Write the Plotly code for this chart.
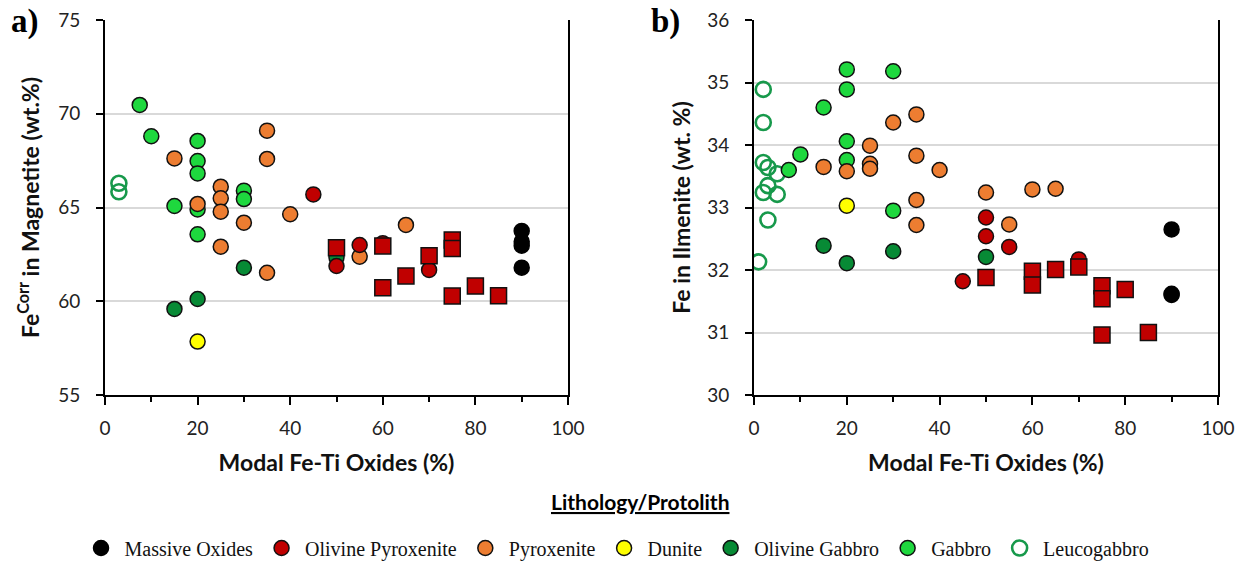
import plotly.graph_objects as go

# ---- Panel a: Fe(corr) in magnetite vs modal Fe-Ti oxides ----
mag_massive_x = [90, 90, 90, 90]
mag_massive_y = [63.75, 63.18, 62.96, 61.79]
mag_olpx_x = [45, 50, 55, 60, 70]
mag_olpx_y = [65.7, 61.88, 63.0, 63.1, 61.67]
mag_olpx_sq_x = [50, 60, 60, 65, 70, 75, 75, 75, 80, 85]
mag_olpx_sq_y = [62.86, 62.95, 60.72, 61.35, 62.43, 63.27, 62.82, 60.28, 60.81, 60.3]
mag_px_x = [15, 20, 25, 25, 25, 25, 30, 35, 35, 35, 40, 55, 65]
mag_px_y = [67.62, 65.19, 66.11, 65.49, 64.78, 62.91, 64.19, 69.1, 67.59, 61.52, 64.64, 62.38, 64.07]
mag_dun_x = [20]
mag_dun_y = [57.85]
mag_olgb_x = [15, 20, 30, 50]
mag_olgb_y = [59.59, 60.12, 61.79, 62.34]
mag_gb_x = [7.5, 10, 15, 20, 20, 20, 20, 20, 30, 30]
mag_gb_y = [70.47, 68.8, 65.08, 68.55, 67.48, 66.82, 64.9, 63.57, 65.9, 65.45]
mag_lgb_x = [3, 3]
mag_lgb_y = [66.29, 65.84]

# ---- Panel b: Fe in ilmenite vs modal Fe-Ti oxides ----
ilm_massive_x = [90, 90, 90]
ilm_massive_y = [32.65, 31.62, 31.6]
ilm_olpx_x = [45, 50, 50, 55, 70]
ilm_olpx_y = [31.82, 32.84, 32.54, 32.37, 32.17]
ilm_olpx_sq_x = [50, 60, 60, 65, 70, 75, 75, 75, 80, 85]
ilm_olpx_sq_y = [31.88, 31.98, 31.76, 32.01, 32.05, 31.75, 31.54, 30.96, 31.69, 31.0]
ilm_px_x = [15, 20, 25, 25, 25, 30, 35, 35, 35, 35, 40, 50, 55, 60, 65]
ilm_px_y = [33.65, 33.58, 33.99, 33.70, 33.62, 34.36, 34.49, 33.83, 33.12, 32.72, 33.6, 33.24, 32.73, 33.29, 33.30]
ilm_dun_x = [20]
ilm_dun_y = [33.03]
ilm_olgb_x = [15, 20, 30, 50]
ilm_olgb_y = [32.39, 32.11, 32.30, 32.21]
ilm_gb_x = [7.5, 10, 15, 20, 20, 20, 20, 30, 30]
ilm_gb_y = [33.6, 33.85, 34.6, 35.21, 34.89, 34.06, 33.76, 35.18, 32.95]
ilm_lgb_x = [2, 2, 2, 3, 5, 3, 2, 5, 3, 1]
ilm_lgb_y = [34.89, 34.36, 33.72, 33.64, 33.54, 33.35, 33.24, 33.21, 32.8, 32.13]

x_ticks = [0, 20, 40, 60, 80, 100]

AXIS_FONT = "Lato"
LEGEND_FONT = "Liberation Serif"

# fill colour, outline colour, outline width, rank in legend
styles = {
    "Leucogabbro": ("rgba(0,0,0,0)", "#17994B", 2.6, 7),
    "Gabbro": ("#1ED83E", "#111111", 1.5, 6),
    "Olivine Gabbro": ("#078A35", "#111111", 1.5, 5),
    "Dunite": ("#FFFF00", "#111111", 1.5, 4),
    "Pyroxenite": ("#ED7D31", "#111111", 1.5, 3),
    "Olivine Pyroxenite": ("#C00000", "#111111", 1.5, 2),
    "Massive Oxides": ("#000000", "#000000", 1.5, 1),
}

panel_a = {
    "Leucogabbro": (mag_lgb_x, mag_lgb_y),
    "Gabbro": (mag_gb_x, mag_gb_y),
    "Olivine Gabbro": (mag_olgb_x, mag_olgb_y),
    "Dunite": (mag_dun_x, mag_dun_y),
    "Pyroxenite": (mag_px_x, mag_px_y),
    "Olivine Pyroxenite": (mag_olpx_x, mag_olpx_y),
    "squares": (mag_olpx_sq_x, mag_olpx_sq_y),
    "Massive Oxides": (mag_massive_x, mag_massive_y),
}
panel_b = {
    "Leucogabbro": (ilm_lgb_x, ilm_lgb_y),
    "Gabbro": (ilm_gb_x, ilm_gb_y),
    "Olivine Gabbro": (ilm_olgb_x, ilm_olgb_y),
    "Dunite": (ilm_dun_x, ilm_dun_y),
    "Pyroxenite": (ilm_px_x, ilm_px_y),
    "Olivine Pyroxenite": (ilm_olpx_x, ilm_olpx_y),
    "squares": (ilm_olpx_sq_x, ilm_olpx_sq_y),
    "Massive Oxides": (ilm_massive_x, ilm_massive_y),
}

fig = go.Figure()

for panel, (xa, ya) in ((panel_a, ("x", "y")), (panel_b, ("x2", "y2"))):
    first = xa == "x"
    for name, (xs, ys) in panel.items():
        if name == "squares":
            fig.add_trace(go.Scatter(
                x=xs, y=ys, mode="markers", xaxis=xa, yaxis=ya,
                name="Olivine Pyroxenite", showlegend=False,
                marker=dict(symbol="square", size=16, color="#C00000",
                            line=dict(color="#111111", width=1.5)),
            ))
            continue
        fill, edge, lw, rank = styles[name]
        fig.add_trace(go.Scatter(
            x=xs, y=ys, mode="markers", xaxis=xa, yaxis=ya,
            name=name, legendgroup=name, showlegend=first, legendrank=rank,
            marker=dict(symbol="circle", size=15, color=fill,
                        line=dict(color=edge, width=lw)),
        ))

tick_font = dict(family=AXIS_FONT, size=19, color="#222222")
title_font = dict(family=AXIS_FONT, size=23, color="#111111", weight="bold")

def x_axis(domain, anchor):
    return dict(
        domain=domain, anchor=anchor, range=[0, 100], automargin=False,
        tickvals=x_ticks, ticks="outside", ticklen=8, tickwidth=2, tickcolor="black",
        minor=dict(dtick=10, tick0=0, ticks="outside", ticklen=5, tickwidth=1.5, tickcolor="black"),
        showline=True, linecolor="black", linewidth=2, showgrid=False, zeroline=False,
        tickfont=tick_font, ticklabelstandoff=7,
        title=dict(text="Modal Fe-Ti Oxides (%)", font=title_font, standoff=17),
    )

def y_axis(domain, anchor, rng, dtick, title, standoff):
    return dict(
        domain=domain, anchor=anchor, range=rng, dtick=dtick, automargin=False,
        ticks="outside", ticklen=7, tickwidth=2, tickcolor="black",
        showline=True, mirror=True, linecolor="black", linewidth=2,
        showgrid=True, gridcolor="#D9D9D9", gridwidth=1.5, zeroline=False,
        tickfont=tick_font, ticklabelstandoff=12,
        title=dict(text=title, font=title_font, standoff=standoff),
    )

ydom = [1 - 395 / 561, 1 - 20 / 561]
fig.update_layout(
    width=1247, height=561,
    margin=dict(l=0, r=0, t=0, b=0, autoexpand=False),
    paper_bgcolor="white", plot_bgcolor="white",
    xaxis=x_axis([105 / 1247, 568 / 1247], "y"),
    yaxis=y_axis(ydom, "x", [55, 75], 5, "Fe<sup>Corr</sup> in Magnetite (wt.%)", 12),
    xaxis2=x_axis([754 / 1247, 1218 / 1247], "y2"),
    yaxis2=y_axis(ydom, "x2", [30, 36], 1, "Fe in Ilmenite (wt. %)", 10),
    showlegend=True,
    legend=dict(
        orientation="h", x=0.494, xanchor="center", y=1 - 548 / 561, yanchor="middle",
        font=dict(family=LEGEND_FONT, size=20, color="#111111"),
        traceorder="normal", bgcolor="rgba(0,0,0,0)", itemwidth=37,
    ),
    annotations=[
        dict(text="<b>a)</b>", x=9 / 1247, y=1 - 22 / 561, xref="paper", yref="paper",
             xanchor="left", yanchor="middle", showarrow=False,
             font=dict(family="Liberation Serif", size=33, color="black")),
        dict(text="<b>b)</b>", x=649 / 1247, y=1 - 22 / 561, xref="paper", yref="paper",
             xanchor="left", yanchor="middle", showarrow=False,
             font=dict(family="Liberation Serif", size=33, color="black")),
        dict(text="Lithology/Protolith", x=640 / 1247, y=1 - 501 / 561, xref="paper", yref="paper",
             xanchor="center", yanchor="middle", showarrow=False,
             font=dict(family=AXIS_FONT, size=21, color="black", weight="bold", lineposition="under")),
    ],
)

fig.write_html("out.html")
